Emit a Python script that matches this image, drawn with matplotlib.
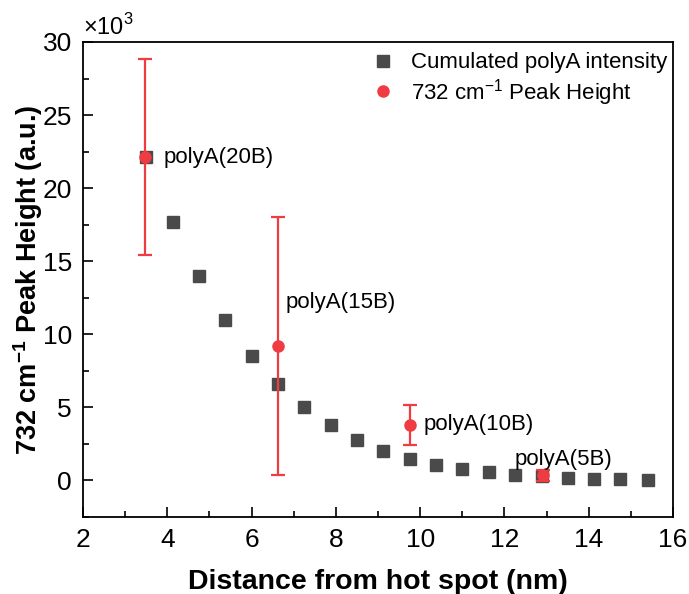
"""
Cumulated polyA intensity vs distance from hot spot, with 732 cm-1 peak heights.
Saves to out.png
"""

import numpy as np
import matplotlib.pyplot as plt
from matplotlib.ticker import MultipleLocator

plt.rcParams['font.family'] = ['Liberation Sans', 'DejaVu Sans']
plt.rcParams['mathtext.fontset'] = 'custom'
plt.rcParams['mathtext.rm'] = 'Liberation Sans'
plt.rcParams['mathtext.bf'] = 'Liberation Sans:bold'

# Cumulated polyA intensity (x10^3)
dist = [3.5, 4.13, 4.75, 5.38, 6.0, 6.63, 7.25, 7.88, 8.5, 9.13,
        9.75, 10.38, 11.0, 11.63, 12.25, 12.88, 13.5, 14.13, 14.75, 15.4]
cum = [22.1, 17.7, 14.0, 11.0, 8.55, 6.6, 5.0, 3.77, 2.75, 2.05,
       1.5, 1.08, 0.78, 0.57, 0.4, 0.3, 0.2, 0.13, 0.08, 0.03]

# 732 cm-1 peak height (x10^3)
peak_x = [3.48, 6.62, 9.77, 12.92]
peak_y = [22.15, 9.2, 3.8, 0.35]
peak_err = [6.7, 8.8, 1.35, 0.4]
peak_labels = ['polyA(20B)', 'polyA(15B)', 'polyA(10B)', 'polyA(5B)']
label_pos = [(3.92, 22.1), (6.8, 12.2), (10.08, 3.8), (12.25, 1.45)]

gray = '#4a4a4a'
red = '#ef3b42'

fig = plt.figure(figsize=(6.89, 5.94), dpi=100)
ax = fig.add_axes([0.1205, 0.1296, 0.8563, 0.7997])

ax.plot(dist, cum, 's', color=gray, ms=8, label='Cumulated polyA intensity', zorder=2)
ax.errorbar(peak_x, peak_y, yerr=peak_err, fmt='none', ecolor=red,
            elinewidth=1.6, capsize=5, capthick=1.6, zorder=3)
ax.plot(peak_x, peak_y, 'o', color=red, ms=8,
        label='732 cm$^{\\mathrm{-1}}$ Peak Height', zorder=4)

for txt, (lx, ly) in zip(peak_labels, label_pos):
    ax.text(lx, ly, txt, fontsize=16, va='center', ha='left')

ax.set_xlim(2, 16)
ax.set_ylim(-2.5, 30)
ax.xaxis.set_major_locator(MultipleLocator(2))
ax.xaxis.set_minor_locator(MultipleLocator(1))
ax.yaxis.set_major_locator(MultipleLocator(5))
ax.yaxis.set_minor_locator(MultipleLocator(2.5))
ax.tick_params(which='both', direction='in', top=False, right=False,
               width=1.2, labelsize=19)
ax.tick_params(which='major', length=7, pad=8)
ax.tick_params(which='minor', length=4)
for s in ax.spines.values():
    s.set_linewidth(1.3)

ax.set_xlabel('Distance from hot spot (nm)', fontsize=20.5, fontweight='bold', labelpad=12)
ax.set_ylabel('732 cm$^{\\mathbf{-1}}$ Peak Height (a.u.)', fontsize=19.5,
              fontweight='bold', labelpad=-2)
ax.text(0.0, 1.005, '×10$^3$', transform=ax.transAxes, fontsize=17,
        ha='left', va='bottom')

leg = ax.legend(loc='upper right', frameon=False, fontsize=16,
                handletextpad=0.5, borderaxespad=0.0, labelspacing=0.15,
                handlelength=1.5, bbox_to_anchor=(1.005, 0.997))

fig.savefig('out.png', dpi=100)
